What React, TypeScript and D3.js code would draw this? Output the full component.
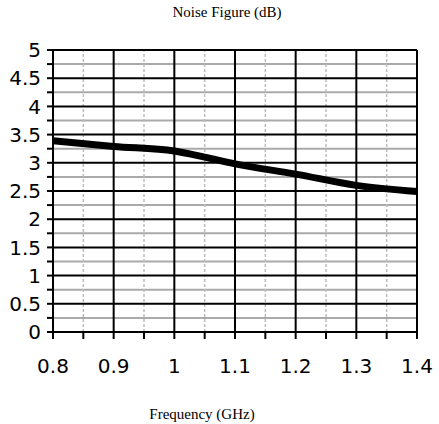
import { useEffect, useRef } from "react";
import * as d3 from "d3";

// Noise figure vs frequency
const freqGHz = [0.8, 0.9, 1.0, 1.05, 1.1, 1.2, 1.3, 1.4];
const noiseDb = [3.39, 3.29, 3.21, 3.1, 2.98, 2.8, 2.6, 2.49];

const xTicks = [0.8, 0.9, 1.0, 1.1, 1.2, 1.3, 1.4];
const xMinor = [0.85, 0.95, 1.05, 1.15, 1.25, 1.35];
const yTicks = [0, 0.5, 1, 1.5, 2, 2.5, 3, 3.5, 4, 4.5, 5];
const yMinor = [0.25, 0.75, 1.25, 1.75, 2.25, 2.75, 3.25, 3.75, 4.25, 4.75];

export default function App() {
  const svgRef = useRef<SVGSVGElement | null>(null);

  useEffect(() => {
    const width = 439;
    const height = 424;
    const margin = { top: 50, right: 22, bottom: 92, left: 53 };

    const svg = d3.select(svgRef.current)
      .attr("width", width)
      .attr("height", height)
      .style("display", "block")
      .style("background", "#ffffff");

    svg.selectAll("*").remove();

    const x = d3.scaleLinear()
      .domain([0.8, 1.4])
      .range([margin.left, width - margin.right]);

    const y = d3.scaleLinear()
      .domain([0, 5])
      .range([height - margin.bottom, margin.top]);

    // minor gridlines
    svg.append("g")
      .selectAll("line")
      .data(yMinor)
      .join("line")
      .attr("x1", x(0.8)).attr("x2", x(1.4))
      .attr("y1", d => y(d)).attr("y2", d => y(d))
      .attr("stroke", "#aaaaaa")
      .attr("stroke-width", 2);

    svg.append("g")
      .selectAll("line")
      .data(xMinor)
      .join("line")
      .attr("x1", d => x(d)).attr("x2", d => x(d))
      .attr("y1", y(0)).attr("y2", y(5))
      .attr("stroke", "#bdbdbd")
      .attr("stroke-width", 1.5)
      .attr("stroke-dasharray", "3,2");

    // major gridlines
    svg.append("g")
      .selectAll("line")
      .data(yTicks)
      .join("line")
      .attr("x1", x(0.8)).attr("x2", x(1.4))
      .attr("y1", d => y(d)).attr("y2", d => y(d))
      .attr("stroke", "#000")
      .attr("stroke-width", 2);

    svg.append("g")
      .selectAll("line")
      .data(xTicks)
      .join("line")
      .attr("x1", d => x(d)).attr("x2", d => x(d))
      .attr("y1", y(0)).attr("y2", y(5))
      .attr("stroke", "#000")
      .attr("stroke-width", 2);

    // tick marks
    svg.append("g")
      .selectAll("line")
      .data([...yTicks, ...yMinor])
      .join("line")
      .attr("x1", x(0.8) - 6).attr("x2", x(0.8))
      .attr("y1", d => y(d)).attr("y2", d => y(d))
      .attr("stroke", "#000")
      .attr("stroke-width", 2);

    svg.append("g")
      .selectAll("line")
      .data([...xTicks, ...xMinor])
      .join("line")
      .attr("x1", d => x(d)).attr("x2", d => x(d))
      .attr("y1", y(0)).attr("y2", y(0) + 7)
      .attr("stroke", "#000")
      .attr("stroke-width", 2);

    // tick labels
    svg.append("g")
      .selectAll("text")
      .data(yTicks)
      .join("text")
      .attr("x", x(0.8) - 12)
      .attr("y", d => y(d))
      .attr("dy", "0.36em")
      .attr("text-anchor", "end")
      .attr("font-family", "DejaVu Sans")
      .attr("font-size", 20)
      .text(d => String(d));

    svg.append("g")
      .selectAll("text")
      .data(xTicks)
      .join("text")
      .attr("x", d => x(d))
      .attr("y", y(0) + 41)
      .attr("text-anchor", "middle")
      .attr("font-family", "DejaVu Sans")
      .attr("font-size", 20)
      .text(d => String(d));

    // data line
    const line = d3.line<number>()
      .x((_, i) => x(freqGHz[i]))
      .y(d => y(d))
      .curve(d3.curveMonotoneX);

    svg.append("path")
      .datum(noiseDb)
      .attr("fill", "none")
      .attr("stroke", "#000")
      .attr("stroke-width", 7)
      .attr("d", line);

    // titles
    svg.append("text")
      .attr("x", 227)
      .attr("y", 17)
      .attr("text-anchor", "middle")
      .attr("font-family", "Liberation Serif, serif")
      .attr("font-size", 15)
      .text("Noise Figure (dB)");

    svg.append("text")
      .attr("x", 202)
      .attr("y", 419)
      .attr("text-anchor", "middle")
      .attr("font-family", "Liberation Serif, serif")
      .attr("font-size", 15)
      .text("Frequency (GHz)");
  }, []);

  return (
    <div style={{ position: "absolute", left: 0, top: 0 }}>
      <svg ref={svgRef}></svg>
    </div>
  );
}
